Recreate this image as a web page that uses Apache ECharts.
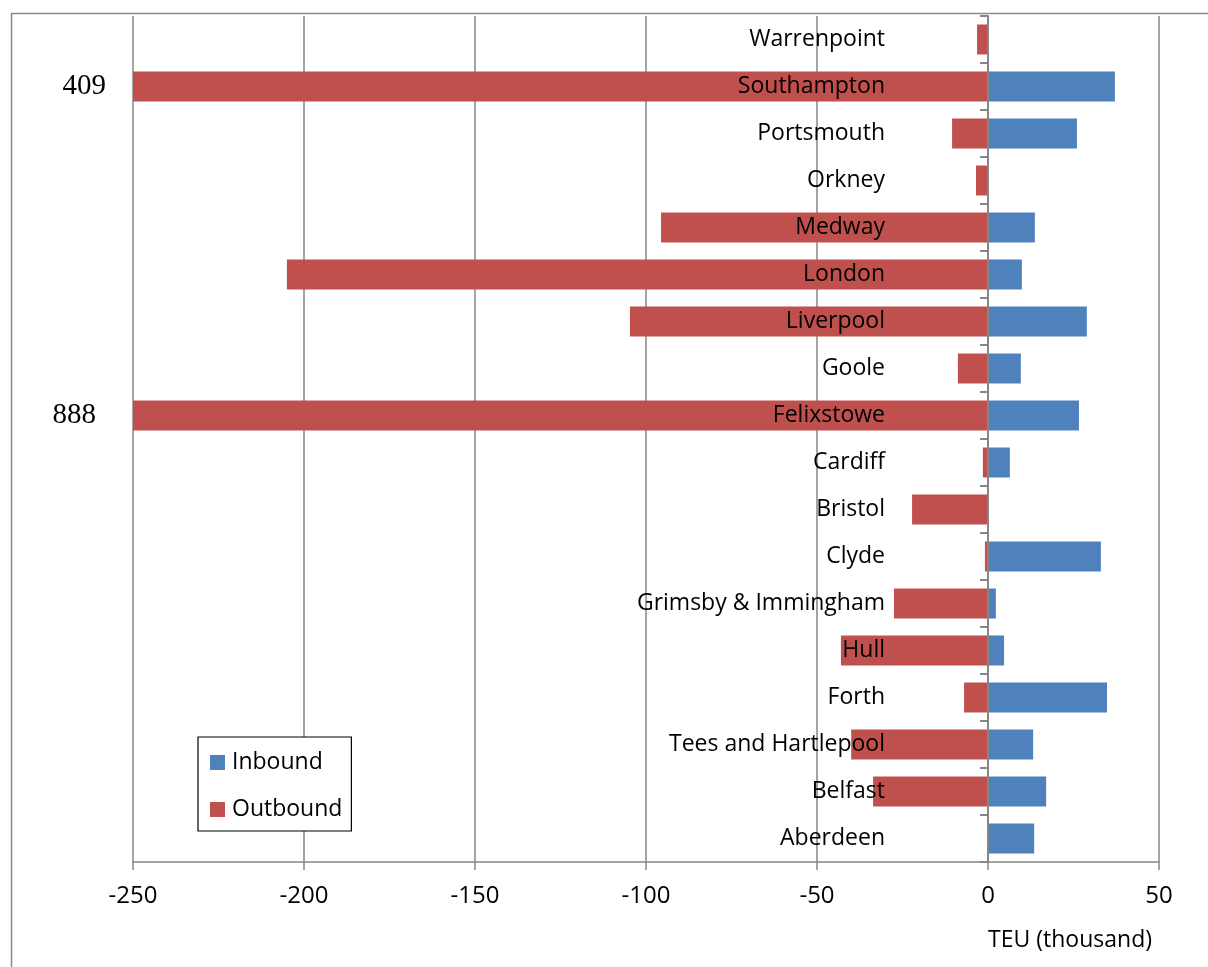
<!DOCTYPE html>
<html><head><meta charset="utf-8">
<script src="https://cdn.jsdelivr.net/npm/echarts@6/dist/echarts.min.js"></script>
<style>html,body{margin:0;padding:0;background:#fff}#c{width:1208px;height:967px}</style>
</head><body><div id="c"></div>
<script>
const categories = ['Aberdeen','Belfast','Tees and Hartlepool','Forth','Hull','Grimsby & Immingham','Clyde','Bristol','Cardiff','Felixstowe','Goole','Liverpool','London','Medway','Orkney','Portsmouth','Southampton','Warrenpoint'];
const inbound  = [13.5, 17, 13.2, 34.8, 4.7, 2.3, 33, 0, 6.4, 26.6, 9.6, 28.9, 9.9, 13.7, 0, 26, 37.1, 0];
const outbound = [0, -33.6, -40, -7, -43, -27.5, -0.9, -22.2, -1.5, -888, -8.8, -104.7, -205, -95.6, -3.5, -10.5, -409, -3.2];
const xTicks = [-250, -200, -150, -100, -50, 0, 50];
const offscale = { '-888': 37, '-409': 27 };

const chart = echarts.init(document.getElementById('c'));
const font = '"Open Sans", Lato, sans-serif';
chart.setOption({
  animation: false,
  textStyle: { fontFamily: font },
  graphic: [{ type: 'rect', left: 9, top: 11, shape: { width: 1300, height: 1100 }, style: { fill: 'none', stroke: '#8a8a8a', lineWidth: 1.5 }, silent: true }],
  title: { text: 'TEU (thousand)', right: 56, top: 929, padding: 0, textStyle: { fontFamily: font, fontWeight: 'normal', fontSize: 23, color: '#000' } },
  legend: {
    orient: 'vertical', left: 198, top: 737,
    data: ['Inbound', 'Outbound'],
    itemWidth: 15, itemHeight: 15, itemGap: 24,
    padding: [14, 9, 10, 12],
    borderColor: '#000', borderWidth: 1.2,
    backgroundColor: '#fff',
    icon: 'rect',
    textStyle: { fontSize: 23, color: '#000', fontFamily: font, padding: [0, 0, 0, 2] }
  },
  grid: { left: 133, right: 49, top: 16, bottom: 105, outerBoundsMode: 'none', containLabel: false },
  xAxis: {
    type: 'value', min: -250, max: 50, interval: 50,
    axisLine: { show: true, lineStyle: { color: '#868686', width: 1.5 } },
    axisTick: { show: true, length: 8, lineStyle: { color: '#868686', width: 1.5 } },
    axisLabel: { fontSize: 24, color: '#000', margin: 22, fontFamily: font,
      formatter: v => xTicks.includes(v) ? String(v) : '' },
    splitLine: { show: true, lineStyle: { color: '#868686', width: 1.5 } }
  },
  yAxis: {
    type: 'category', data: categories, z: 10,
    axisLine: { show: true, onZero: true, lineStyle: { color: '#868686', width: 2 } },
    axisTick: { show: true, length: 8, lineStyle: { color: '#868686', width: 2 } },
    axisLabel: { inside: true, align: 'right', fontSize: 23, color: '#000', margin: 752, fontFamily: font, padding: [8, 0, 0, 0] },
    splitLine: { show: false }
  },
  series: [
    { name: 'Inbound', type: 'bar', data: inbound, barWidth: 30, barGap: '-100%',
      itemStyle: { color: '#4F81BD' } },
    { name: 'Outbound', type: 'bar', data: outbound.map(v => {
        const d = offscale[String(v)];
        return d ? { value: v, label: { show: true, position: 'left', distance: d,
          formatter: String(-v), fontFamily: '"Liberation Serif", serif', fontSize: 29, color: '#000' } } : v;
      }), barWidth: 30, barGap: '-100%',
      itemStyle: { color: '#C0504D' } }
  ]
});
</script></body></html>
